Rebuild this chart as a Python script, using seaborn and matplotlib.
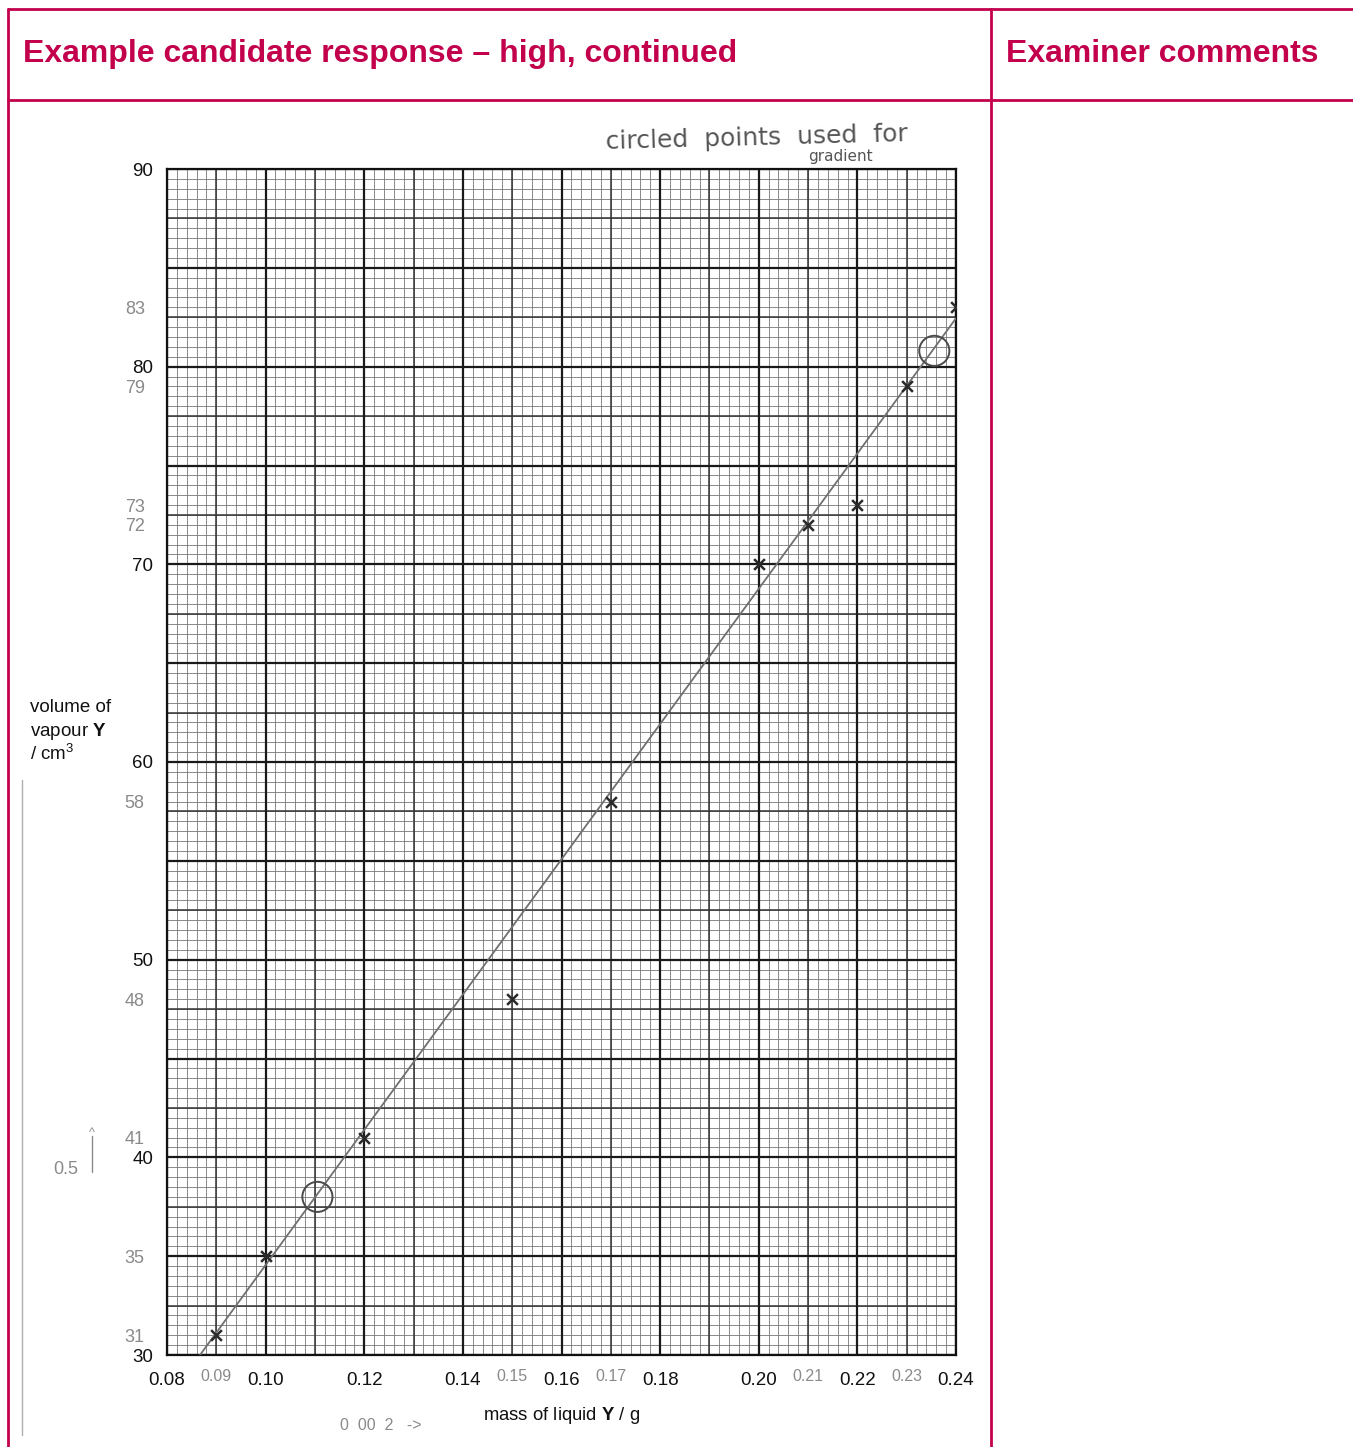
import numpy as np
import matplotlib
matplotlib.use("Agg")
import matplotlib.pyplot as plt
import seaborn as sns

# candidate's plotted points
mass_g = [0.09, 0.10, 0.12, 0.15, 0.17, 0.20, 0.21, 0.22, 0.23, 0.24]
volume_cm3 = [31, 35, 41, 48, 58, 70, 72, 73, 79, 83]

# line of best fit drawn by the candidate (end points)
fit_x = [0.0867, 0.24]
fit_y = [30.0, 82.45]

# points circled for the gradient
circled_x = [0.1105, 0.2356]
circled_y = [38.0, 80.8]

x_ticks = [0.08, 0.10, 0.12, 0.14, 0.16, 0.18, 0.20, 0.22, 0.24]
y_ticks = [30, 40, 50, 60, 70, 80, 90]
hand_x = [0.09, 0.15, 0.17, 0.21, 0.23]
hand_x_labels = ["0.09", "0.15", "0.17", "0.21", "0.23"]
hand_y = [31, 35, 41, 48, 58, 72, 73, 79, 83]
hand_y_labels = ["31", "35", "41", "48", "58", "72", "73", "79", "83"]

CRIMSON = "#c3004c"
PENCIL = "#8a8a8a"

sns.set_theme(style="white")
plt.rcParams['font.family'] = ['Liberation Sans', 'DejaVu Sans']
plt.rcParams['mathtext.fontset'] = 'custom'
plt.rcParams['mathtext.rm'] = 'Liberation Sans'
plt.rcParams['mathtext.bf'] = 'Liberation Sans:bold'

W, H = 1353, 1447
fig = plt.figure(figsize=(W / 100, H / 100), dpi=100)
fig.patch.set_facecolor("white")


def px(x, y):
    return x / W, 1 - y / H


# table frame
for (x0, y0, x1, y1) in [(8, 9, W, 9), (8, 100, W, 100), (8, 9, 8, H), (991, 9, 991, H)]:
    a, b = px(x0, y0)
    c, d = px(x1, y1)
    fig.add_artist(plt.Line2D([a, c], [b, d], color=CRIMSON, lw=2.0))
a, b = px(22, 780)
c, d = px(22, 1435)
fig.add_artist(plt.Line2D([a, c], [b, d], color="#b0b0b0", lw=1.0))

fig.text(*px(23, 54), "Example candidate response \u2013 high, continued",
         color=CRIMSON, fontsize=23, fontweight="bold", va="center", ha="left")
fig.text(*px(1006, 54), "Examiner comments",
         color=CRIMSON, fontsize=23, fontweight="bold", va="center", ha="left")

ax = fig.add_axes([167 / W, 92 / H, 789 / W, 1186 / H])
ax.set_xlim(0.08, 0.24)
ax.set_ylim(30, 90)

# graph paper
ax.vlines(np.arange(0.08, 0.2401, 0.002), 30, 90, color="#767676", lw=0.6, zorder=1)
ax.hlines(np.arange(30, 90.01, 0.5), 0.08, 0.24, color="#767676", lw=0.6, zorder=1)
ax.vlines(np.arange(0.09, 0.24, 0.02), 30, 90, color="#333333", lw=1.1, zorder=1)
ax.hlines(np.arange(32.5, 90, 5), 0.08, 0.24, color="#333333", lw=1.1, zorder=1)
ax.vlines(np.arange(0.08, 0.2401, 0.02), 30, 90, color="#1a1a1a", lw=1.6, zorder=1)
ax.hlines(np.arange(30, 90.01, 5), 0.08, 0.24, color="#1a1a1a", lw=1.6, zorder=1)

sns.lineplot(x=fit_x, y=fit_y, ax=ax, color="#707070", lw=1.3, zorder=3)
sns.scatterplot(x=mass_g, y=volume_cm3, ax=ax, marker="x", s=60,
                color="#2a2a2a", linewidth=1.8, zorder=4)
ax.scatter(circled_x, circled_y, s=470, facecolors="none",
           edgecolors="#4a4a4a", linewidths=1.4, zorder=4)

for s in ax.spines.values():
    s.set_color("#111111")
    s.set_linewidth(1.6)

ax.set_xticks(x_ticks, labels=[f"{v:.2f}" for v in x_ticks])
ax.set_yticks(y_ticks, labels=[str(v) for v in y_ticks])
ax.set_xticks(hand_x, labels=hand_x_labels, minor=True)
ax.set_yticks(hand_y, labels=hand_y_labels, minor=True)
ax.tick_params(which="major", direction="out", length=8, width=1.3,
               color="#111111", labelsize=13.5, labelcolor="#111111")
ax.tick_params(axis="x", which="major", pad=4)
ax.tick_params(axis="y", which="major", pad=2)
ax.tick_params(which="minor", direction="out", length=4, width=1.0,
               color="#555555", labelcolor=PENCIL)
ax.tick_params(axis="x", which="minor", pad=6, labelsize=11.5)
ax.tick_params(axis="y", which="minor", pad=12, labelsize=13)

ax.set_xlabel(r"mass of liquid $\mathbf{Y}$ / g", fontsize=13.3,
              color="#111111", labelpad=12)
ax.set_ylabel("")
fig.text(*px(30, 708), "volume of", fontsize=13.5, va="center", color="#111111")
fig.text(*px(30, 732), r"vapour $\mathbf{Y}$", fontsize=13.5, va="center", color="#111111")
fig.text(*px(30, 754), r"/ cm$^3$", fontsize=13.5, va="center", color="#111111")

# pencil notes
fig.text(*px(605, 138), "circled  points  used  for", fontsize=18, color="#555555",
         va="center", ha="left", rotation=1.5, family=["DejaVu Sans"])
fig.text(*px(808, 157), "gradient", fontsize=11, color="#555555",
         va="center", ha="left", family=["DejaVu Sans"])
fig.text(*px(53, 1170), "0.5", fontsize=13, color=PENCIL, va="center", ha="left")
fig.add_artist(plt.Line2D([92 / W, 92 / W], [1 - 1172 / H, 1 - 1136 / H],
                          color=PENCIL, lw=1.0))
fig.text(*px(92, 1133), "^", fontsize=9, color=PENCIL, va="center", ha="center")
fig.text(*px(340, 1425), "0  00  2   ->", fontsize=11.5, color=PENCIL, va="center", ha="left")

fig.savefig("out.png", dpi=100)
